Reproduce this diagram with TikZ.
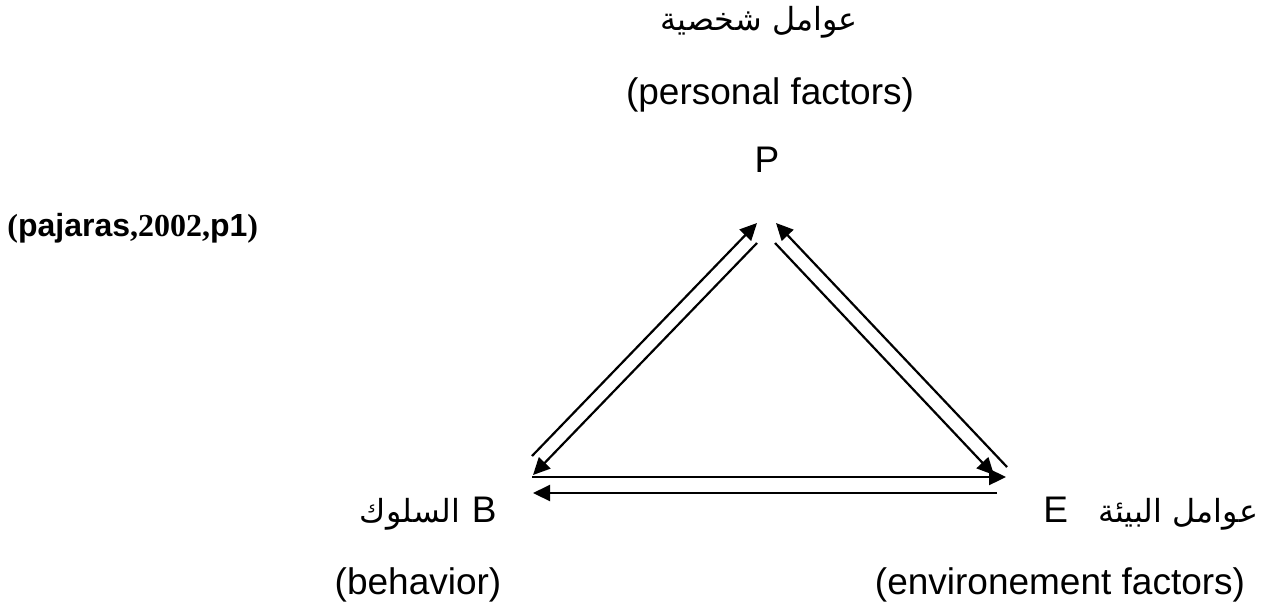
\documentclass[tikz,border=0pt]{standalone}
\usepackage{fontspec}
\setmainfont{Liberation Sans}
\newfontfamily\arabicfont[Script=Arabic,Scale=0.86]{DejaVu Sans}
\newfontfamily\timesfont{Liberation Serif}
\TeXXeTstate=1
\usetikzlibrary{arrows.meta}
\begin{document}
\begin{tikzpicture}[x=0.5pt,y=-0.5pt]
		\tikzset{txt/.style = {inner sep=0pt, font=\fontsize{18.5}{22}\selectfont}}
		\tikzset{cite/.style = {inner sep=0pt, font=\fontsize{16}{18}\selectfont\bfseries}}
		\tikzset{arr/.style = {-{Triangle[length=8.5pt,width=8pt]}, line width=1.1pt}}
		\useasboundingbox (0,0) rectangle (1261,611);
		\node[txt] (parab) at (759,22) {\arabicfont\beginR عوامل شخصية\endR};
		\node[txt] (pen) at (770,95) {(personal factors)};
		\node[txt] (p) at (767,160) {P};
		\node[cite, anchor=west] (src) at (7,228) {{\timesfont(}pajaras{\timesfont,2002,}p1{\timesfont)}};
		\node[txt, anchor=base east] (b) at (497,522) {{\arabicfont\beginR السلوك\endR}\hspace{6pt}B};
		\node[txt] (ben) at (418,585) {(behavior)};
		\node[txt, anchor=base west] (e) at (1043,522) {E\hspace{15pt}{\arabicfont\beginR عوامل البيئة\endR}};
		\node[txt] (een) at (1060,585) {(environement factors)};
		% arrow ends
		\coordinate (bp1) at (532,456); \coordinate (pb1) at (757,223);
		\coordinate (pb2) at (757,243); \coordinate (bp2) at (533,475);
		\coordinate (ep1) at (1007,467); \coordinate (pe1) at (776,223);
		\coordinate (pe2) at (775,243); \coordinate (ep2) at (994,475);
		\coordinate (be1) at (532,477); \coordinate (eb1) at (1006,477);
		\coordinate (eb2) at (997,493); \coordinate (be2) at (533,493);
		\path (bp1) edge[arr] (pb1);
		\path (pb2) edge[arr] (bp2);
		\path (ep1) edge[arr] (pe1);
		\path (pe2) edge[arr] (ep2);
		\path (be1) edge[arr] (eb1);
		\path (eb2) edge[arr] (be2);
	\end{tikzpicture}
\end{document}
